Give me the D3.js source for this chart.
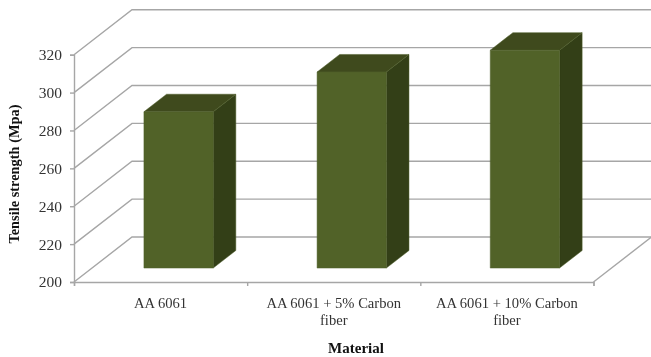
<!DOCTYPE html>
<html>
<head>
<meta charset="utf-8">
<script src="https://cdn.jsdelivr.net/npm/d3@7"></script>
<style>
  html, body { margin: 0; padding: 0; background: #fff; }
  svg { display: block; filter: blur(0.35px); }
  text { font-family: "Liberation Serif", serif; }
</style>
</head>
<body>
<div id="chart"></div>
<script>
const categories = ['AA 6061', 'AA 6061 + 5% Carbon fiber', 'AA 6061 + 10% Carbon fiber'];
const categoryLines = [['AA 6061'], ['AA 6061 + 5% Carbon', 'fiber'], ['AA 6061 + 10% Carbon', 'fiber']];
const strength = [282.5, 303.5, 315];
const yTicks = [200, 220, 240, 260, 280, 300, 320];

const width = 651, height = 357;
const plot = { left: 74, right: 593.5, top: 54.7, bottom: 282 };
const depth = { dx: 58, dy: 45 };
const barDepth = { front: 0.31, back: 0.70 };

const x = d3.scaleBand()
  .domain(categories)
  .range([plot.left, plot.right])
  .paddingInner(0.6)
  .paddingOuter(0.3);

const y = d3.scaleLinear()
  .domain([200, 320])
  .range([plot.bottom, plot.top]);

// oblique projection: d = 0 is the front plane, d = 1 the back wall
const project = (px, py, d) => [px + d * depth.dx, py - d * depth.dy];

const svg = d3.select('#chart').append('svg')
  .attr('width', width)
  .attr('height', height);

const line = d3.line();
const gridColor = '#a6a6a6';

// walls and floor
const grid = svg.append('g')
  .attr('fill', 'none')
  .attr('stroke', gridColor)
  .attr('stroke-width', 1.4);

yTicks.forEach(t => {
  grid.append('path').attr('d', line([
    project(plot.left, y(t), 0),
    project(plot.left, y(t), 1),
    project(plot.right, y(t), 1)
  ]));
});

grid.append('path').attr('d', line([
  project(plot.right, y(200), 1),
  project(plot.right, y(200), 0)
]));

// axes
const yAxis = svg.append('g')
  .attr('transform', `translate(${plot.left},0)`)
  .call(d3.axisLeft(y).tickValues(yTicks).tickSize(4).tickPadding(8));

const xEdges = [plot.left, plot.left + x.step(), plot.left + 2 * x.step(), plot.right];
const xAxis = svg.append('g')
  .attr('transform', `translate(0,${plot.bottom})`)
  .call(d3.axisBottom(d3.scaleLinear().domain([plot.left, plot.right]).range([plot.left, plot.right]))
    .tickValues(xEdges).tickSize(4).tickFormat(''));

svg.selectAll('.domain, .tick line')
  .attr('stroke', gridColor)
  .attr('stroke-width', 1.4);

yAxis.selectAll('text')
  .attr('fill', '#333')
  .style('font-family', '"Liberation Serif", serif')
  .style('font-size', '15.5px');

// bars
const bars = svg.selectAll('.bar')
  .data(categories.map((c, i) => ({ category: c, value: strength[i] })))
  .join('g')
  .attr('class', 'bar')
  .attr('stroke', '#4f5f2b')
  .attr('stroke-width', 0.5)
  .attr('stroke-linejoin', 'round');

const offset = barDepth.front;
const thick = barDepth.back - barDepth.front;
const corners = d => {
  const [x0, y0] = project(x(d.category), y(200), offset);
  const [x1, y1] = project(x(d.category) + x.bandwidth(), y(d.value), offset);
  return { x0, y0, x1, y1, dx: thick * depth.dx, dy: thick * depth.dy };
};

bars.append('path')
  .attr('fill', '#333f17')
  .attr('d', d => {
    const c = corners(d);
    return line([[c.x1, c.y0], [c.x1 + c.dx, c.y0 - c.dy], [c.x1 + c.dx, c.y1 - c.dy], [c.x1, c.y1]]) + 'Z';
  });

bars.append('path')
  .attr('fill', '#3f4a1d')
  .attr('d', d => {
    const c = corners(d);
    return line([[c.x0, c.y1], [c.x0 + c.dx, c.y1 - c.dy], [c.x1 + c.dx, c.y1 - c.dy], [c.x1, c.y1]]) + 'Z';
  });

bars.append('path')
  .attr('fill', '#516228')
  .attr('d', d => {
    const c = corners(d);
    return line([[c.x0, c.y0], [c.x1, c.y0], [c.x1, c.y1], [c.x0, c.y1]]) + 'Z';
  });

// category labels
const labels = svg.append('g')
  .attr('text-anchor', 'middle')
  .attr('fill', '#333')
  .style('font-size', '14.6px');

categories.forEach((c, i) => {
  const cx = x(c) + x.bandwidth() / 2;
  categoryLines[i].forEach((txt, j) => {
    labels.append('text')
      .attr('x', cx)
      .attr('y', 308 + j * 16.5)
      .text(txt);
  });
});

// axis titles
svg.append('text')
  .attr('transform', 'translate(19,174) rotate(-90)')
  .attr('text-anchor', 'middle')
  .attr('fill', '#111')
  .style('font-size', '14.4px')
  .style('font-weight', 'bold')
  .text('Tensile strength (Mpa)');

svg.append('text')
  .attr('x', 356)
  .attr('y', 353)
  .attr('text-anchor', 'middle')
  .attr('fill', '#111')
  .style('font-size', '15px')
  .style('font-weight', 'bold')
  .text('Material');
</script>
</body>
</html>
